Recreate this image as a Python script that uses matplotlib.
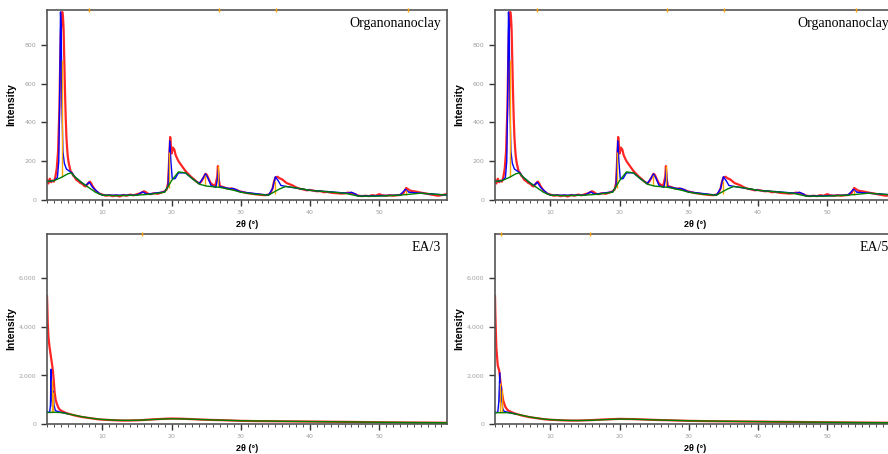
import matplotlib
matplotlib.use("Agg")
import matplotlib.pyplot as plt
from matplotlib.ticker import MultipleLocator, FuncFormatter

# ---- Organonanoclay ----
org_x = [2.0, 2.2, 2.4, 2.6, 2.8, 3.0, 3.2, 3.4, 3.6, 3.8, 3.9, 4.0, 4.1, 4.2, 4.3, 4.4, 4.5, 4.6,
         4.7, 4.8, 4.9, 5.0, 5.1, 5.2, 5.4, 5.6, 5.8, 6.0, 6.2, 6.4, 6.6, 6.8, 7.0, 7.2, 7.4, 7.6,
         7.8, 8.0, 8.2, 8.4, 8.6, 8.8, 9.0, 9.2, 9.4, 9.6, 9.8, 10.0, 10.5, 11.0, 11.5, 12.0, 12.5,
         13.0, 13.5, 14.0, 14.5, 15.0, 15.5, 16.0, 16.3, 16.6, 17.0, 17.5, 18.0, 18.5, 19.0, 19.3,
         19.5, 19.7, 19.8, 19.9, 20.0, 20.2, 20.4, 20.6, 20.8, 21.0, 21.3, 21.6, 22.0, 22.4, 22.8,
         23.2, 23.6, 24.0, 24.3, 24.6, 24.9, 25.1, 25.4, 25.7, 26.0, 26.3, 26.6, 26.7, 26.8, 27.0,
         27.4, 27.8, 28.2, 28.6, 29.0, 29.4, 29.8, 30.2, 30.6, 31.0, 31.5, 32.0, 32.5, 33.0, 33.5,
         34.0, 34.3, 34.6, 34.8, 35.0, 35.3, 35.6, 35.9, 36.2, 36.6, 37.0, 37.5, 38.0, 38.5, 39.0,
         39.5, 40.0, 40.5, 41.0, 41.5, 42.0, 42.5, 43.0, 43.5, 44.0, 44.5, 45.0, 45.5, 46.0, 46.5,
         47.0, 47.5, 48.0, 48.5, 49.0, 49.5, 50.0, 50.5, 51.0, 51.5, 52.0, 52.5, 53.0, 53.5, 53.9,
         54.2, 54.5, 55.0, 55.5, 56.0, 56.5, 57.0, 57.5, 58.0, 58.5, 59.0, 59.5, 60.0]
org_obs = [105, 85, 110, 92, 100, 95, 118, 160, 250, 480, 700, 860, 940, 970, 950, 880, 720, 560,
           430, 330, 270, 225, 200, 180, 150, 140, 125, 118, 105, 100, 95, 88, 85, 80, 72, 70,
           80, 88, 95, 85, 70, 60, 50, 42, 38, 32, 30, 28, 22, 25, 20, 24, 18,
           26, 22, 28, 24, 30, 35, 45, 40, 32, 30, 35, 32, 38, 45, 55,
           90, 250, 325, 280, 240, 270, 260, 230, 215, 200, 185, 170, 150, 135, 120,
           108, 95, 85, 95, 115, 135, 130, 105, 85, 78, 72, 120, 175, 110, 70,
           68, 62, 58, 60, 55, 52, 45, 42, 38, 35, 33, 30, 28, 26, 25,
           28, 35, 60, 95, 115, 120, 112, 108, 100, 88, 82, 75, 65, 58, 55,
           50, 52, 48, 45, 46, 40, 42, 38, 36, 35, 33, 34, 38, 36, 30,
           22, 20, 22, 20, 25, 22, 30, 24, 22, 25, 22, 24, 26, 35, 62,
           55, 48, 45, 42, 38, 35, 32, 28, 25, 22, 25, 28, 35]
org_fit_x = [2.0, 3.0, 3.5, 3.7, 3.85, 3.95, 4.05, 4.15, 4.3, 4.5, 4.8, 5.2, 5.6, 6.0, 7.0, 7.6,
             8.1, 8.6, 9.5, 10.0, 15.0, 15.8, 16.4, 19.0, 19.5, 19.75, 19.9, 20.1, 20.5, 21.0,
             22.0, 23.0, 24.0, 24.5, 24.9, 25.3, 25.7, 26.4, 26.6, 26.75, 26.9, 27.5, 28.5, 28.9,
             29.5, 30.0, 34.0, 34.6, 35.0, 35.4, 35.8, 36.5, 40.0, 45.5, 46.0, 46.6, 47.0, 53.0,
             53.8, 54.3, 56.0, 60.0]
org_fit = [95, 100, 115, 200, 600, 970, 900, 500, 250, 190, 160, 150, 140, 120, 90, 75,
           92, 65, 35, 25, 25, 42, 30, 42, 70, 305, 200, 110, 110, 140,
           140, 110, 85, 110, 135, 110, 75, 65, 100, 160, 70, 65, 58, 60,
           50, 42, 25, 60, 120, 100, 75, 70, 50, 35, 40, 30, 20, 25,
           55, 40, 35, 25]
org_bkg_x = [2.0, 3.0, 4.0, 5.0, 5.5, 6.0, 7.0, 8.0, 9.0, 10.0, 12.0, 15.0, 17.0, 19.0, 20.0,
             21.0, 22.0, 23.0, 24.0, 25.0, 27.0, 29.0, 30.0, 32.0, 34.0, 35.5, 36.5, 38.0, 40.0,
             45.0, 47.0, 50.0, 53.0, 56.0, 60.0]
org_bkg = [95, 100, 115, 135, 140, 120, 90, 65, 40, 25, 22, 25, 30, 40, 100,
           145, 140, 110, 82, 72, 65, 50, 40, 30, 25, 55, 70, 62, 50,
           35, 20, 20, 25, 35, 25]
org_peak_pos = [4.1, 19.65, 24.8, 26.7, 34.9, 53.9]
org_peak_base = [120, 60, 75, 65, 30, 25]
org_peak_top = [720, 250, 130, 175, 100, 50]
org_ref_marks = [8.1, 26.8, 35.1, 54.1]

# ---- EA/3 ----
ea3_x = [2.0, 2.05, 2.1, 2.2, 2.35, 2.5, 2.7, 2.85, 3.0, 3.1, 3.25, 3.4, 3.6, 3.8, 4.0, 4.3, 4.6,
         5.0, 5.5, 6.0, 6.5, 7.0, 7.5, 8.0, 8.5, 9.0, 9.5, 10.0, 11.0, 12.0, 13.0, 14.0, 15.0,
         16.0, 17.0, 18.0, 19.0, 20.0, 21.0, 22.0, 23.0, 24.0, 25.0, 26.0, 27.0, 28.0, 29.0,
         30.0, 32.0, 34.0, 36.0, 38.0, 40.0, 42.0, 44.0, 46.0, 48.0, 50.0, 52.0, 54.0, 56.0,
         58.0, 60.0]
ea3_obs = [5250, 4800, 4200, 3600, 3200, 2900, 2500, 2200, 1700, 1300, 1000, 850, 700, 600, 560,
           510, 470, 430, 390, 350, 320, 290, 270, 250, 230, 210, 190, 180, 165, 150, 140, 145,
           150, 165, 185, 200, 215, 225, 220, 210, 200, 185, 175, 165, 160, 150, 140, 130, 120,
           115, 110, 105, 100, 95, 90, 85, 78, 70, 65, 60, 58, 55, 50]
ea3_fit_x = [2.0, 2.4, 2.5, 2.6, 2.7, 2.8, 2.9, 3.0, 3.2, 3.5, 4.0, 4.5, 5.0]
ea3_fit = [480, 490, 800, 2250, 1000, 700, 1350, 800, 550, 520, 480, 450, 420]
ea3_bkg_x = [2.0, 3.0, 4.0, 5.0, 6.0, 7.0, 8.0, 9.0, 10.0, 12.0, 14.0, 16.0, 18.0, 20.0, 22.0,
             24.0, 26.0, 28.0, 30.0, 35.0, 40.0, 45.0, 50.0, 55.0, 60.0]
ea3_bkg = [470, 480, 470, 420, 360, 300, 255, 215, 185, 155, 148, 165, 195, 215, 205,
           185, 165, 150, 135, 115, 100, 88, 72, 60, 50]
ea3_peak_pos = [2.75, 2.9]
ea3_peak_base = [480, 480]
ea3_peak_top = [1800, 1300]
ea3_ref_marks = [15.7]

# ---- EA/5 ----
ea5_x = [2.0, 2.05, 2.1, 2.2, 2.4, 2.6, 2.8, 3.0, 3.2, 3.5, 3.8, 4.0, 4.3, 4.6, 5.0, 5.5, 6.0,
         6.5, 7.0, 7.5, 8.0, 8.5, 9.0, 9.5, 10.0, 11.0, 12.0, 13.0, 14.0, 15.0, 16.0, 17.0,
         18.0, 19.0, 20.0, 21.0, 22.0, 23.0, 24.0, 25.0, 26.0, 27.0, 28.0, 29.0, 30.0, 32.0,
         34.0, 36.0, 38.0, 40.0, 42.0, 44.0, 46.0, 48.0, 50.0, 52.0, 54.0, 56.0, 58.0, 60.0]
ea5_obs = [5250, 4500, 4000, 3100, 2400, 2200, 1700, 1300, 950, 700, 580, 540, 500, 460, 420,
           380, 340, 310, 280, 260, 240, 220, 200, 185, 175, 160, 148, 140, 142, 150, 160,
           175, 190, 200, 210, 205, 200, 190, 180, 170, 160, 155, 145, 138, 130, 120,
           112, 108, 102, 98, 92, 88, 82, 76, 70, 65, 60, 57, 54, 50]
ea5_fit_x = [2.0, 2.4, 2.55, 2.7, 2.8, 2.9, 3.0, 3.1, 3.3, 3.6, 4.0, 4.5, 5.0]
ea5_fit = [470, 480, 900, 2100, 900, 1550, 1000, 650, 520, 500, 470, 440, 410]
ea5_bkg_x = [2.0, 3.0, 4.0, 5.0, 6.0, 7.0, 8.0, 9.0, 10.0, 12.0, 14.0, 16.0, 18.0, 20.0, 22.0,
             24.0, 26.0, 28.0, 30.0, 35.0, 40.0, 45.0, 50.0, 55.0, 60.0]
ea5_bkg = [460, 470, 460, 410, 350, 290, 245, 205, 178, 150, 142, 155, 180, 200, 195,
           178, 160, 148, 132, 112, 98, 86, 70, 58, 48]
ea5_peak_pos = [2.75, 2.95]
ea5_peak_base = [470, 470]
ea5_peak_top = [1700, 1400]
ea5_ref_marks = [2.8, 15.7]


def draw(ax, x, obs, fx, fit, bx, bkg, ppos, pbase, ptop, marks, ymax, ystep, label):
    ax.plot(x, obs, color="red", lw=1.6, alpha=0.85, zorder=2)
    ax.plot(fx, fit, color="blue", lw=1.0, zorder=3)
    ax.vlines(ppos, pbase, ptop, color="orange", lw=1.0, zorder=3)
    ax.plot(bx, bkg, color="green", lw=1.0, zorder=4)
    ax.plot(marks, [ymax] * len(marks), ls="none", marker="|", ms=3,
            color="orange", clip_on=False, zorder=5)
    ax.set_xlim(2, 59.8)
    ax.set_ylim(0, ymax)
    ax.xaxis.set_major_locator(MultipleLocator(10))
    ax.xaxis.set_minor_locator(MultipleLocator(1))
    ax.yaxis.set_major_locator(MultipleLocator(ystep))
    ax.yaxis.set_major_formatter(FuncFormatter(lambda v, p: "{:,}".format(int(v))))
    ax.tick_params(axis="both", which="major", labelsize=4.5, labelcolor="#a0a0a0",
                   color="#333333", length=4, width=1, direction="out")
    ax.tick_params(axis="x", which="minor", length=2, width=0.6, color="#333333")
    ax.tick_params(axis="x", which="major", length=4)
    for s in ax.spines.values():
        s.set_color("#555555")
        s.set_linewidth(1.2)
    ax.set_ylabel("Intensity", fontsize=7.5, fontweight="bold", family="Liberation Sans")
    ax.yaxis.set_label_coords(-0.078, 0.5)
    ax.set_xlabel("2θ (°)", fontsize=6.5, fontweight="bold", family="Liberation Sans",
                  labelpad=3)
    ax.text(0.985, 0.93, label, transform=ax.transAxes, ha="right", va="center",
            fontsize=10, family="Liberation Serif")


fig = plt.figure(figsize=(8.88, 4.54), dpi=100)
w, h = 400 / 888, 190 / 454
ax1 = fig.add_axes([47 / 888, 254 / 454, w, h])
ax2 = fig.add_axes([495 / 888, 254 / 454, w, h])
ax3 = fig.add_axes([47 / 888, 30 / 454, w, h])
ax4 = fig.add_axes([495 / 888, 30 / 454, w, h])

draw(ax1, org_x, org_obs, org_fit_x, org_fit, org_bkg_x, org_bkg,
     org_peak_pos, org_peak_base, org_peak_top, org_ref_marks, 980, 200, "Organonanoclay")
draw(ax2, org_x, org_obs, org_fit_x, org_fit, org_bkg_x, org_bkg,
     org_peak_pos, org_peak_base, org_peak_top, org_ref_marks, 980, 200, "Organonanoclay")
draw(ax3, ea3_x, ea3_obs, ea3_fit_x, ea3_fit, ea3_bkg_x, ea3_bkg,
     ea3_peak_pos, ea3_peak_base, ea3_peak_top, ea3_ref_marks, 7800, 2000, "EA/3")
draw(ax4, ea5_x, ea5_obs, ea5_fit_x, ea5_fit, ea5_bkg_x, ea5_bkg,
     ea5_peak_pos, ea5_peak_base, ea5_peak_top, ea5_ref_marks, 7800, 2000, "EA/5")

fig.savefig("out.png", dpi=100)
